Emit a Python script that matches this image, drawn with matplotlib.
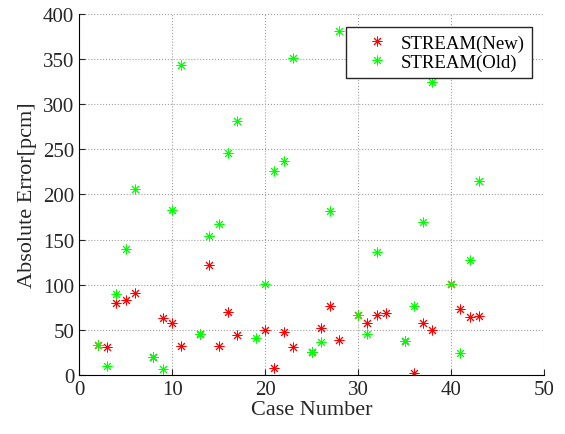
import numpy as np
import matplotlib
matplotlib.use('Agg')
import matplotlib.pyplot as plt

plt.rcParams['font.family'] = ['Liberation Serif', 'DejaVu Serif']

new_case = [2, 3, 4, 5, 6, 8, 9, 10, 11, 13, 14, 15, 16, 17, 20, 21, 22, 23, 25,
            26, 27, 28, 30, 31, 32, 33, 35, 36, 37, 38, 40, 41, 42, 43]
new_err = [33, 31, 80, 83, 91, 20, 63, 58, 32, 45, 122, 32, 70, 44, 50, 8, 48, 31, 26,
           52, 77, 39, 67, 58, 66, 69, 38, 2, 58, 50, 101, 73, 64, 65]

old_case = [2, 3, 4, 5, 6, 8, 9, 10, 11, 13, 14, 15, 16, 17, 19, 20, 21, 22, 23,
            25, 26, 27, 28, 30, 31, 32, 35, 36, 37, 38, 40, 41, 42, 43]
old_err = [33, 10, 90, 140, 206, 20, 7, 183, 343, 45, 154, 167, 246, 281, 41, 101, 226, 237, 351,
           26, 37, 182, 381, 67, 45, 136, 38, 77, 169, 325, 101, 24, 127, 215]

asterisk = (8, 2, 0)

fig = plt.figure(figsize=(5.65, 4.35), dpi=100)
ax = fig.add_axes([0.14, 0.1356, 0.823, 0.83])

ax.plot(new_case, new_err, linestyle='none', marker=asterisk, color='#ff0000',
        markersize=7, markeredgewidth=0.7, label='STREAM(New)')
ax.plot(old_case, old_err, linestyle='none', marker=asterisk, color='#00ff00',
        markersize=7, markeredgewidth=0.7, label='STREAM(Old)')

ax.set_xlim(0, 50)
ax.set_ylim(0, 400)
ax.set_xticks(np.arange(0, 51, 10))
ax.set_yticks(np.arange(0, 401, 50))
ax.grid(True, linestyle=':', color='#a0a0a0', linewidth=0.8)
ax.spines['top'].set_visible(False)
ax.spines['right'].set_visible(False)
ax.tick_params(direction='in', labelsize=15, length=4, color='#262626', labelcolor='#262626')
ax.set_xlabel('Case Number', fontsize=16, color='#262626', labelpad=1)
ax.set_ylabel('Absolute Error[pcm]', fontsize=16, color='#262626', labelpad=4)

leg = ax.legend(loc='upper right', bbox_to_anchor=(0.974, 0.964), borderaxespad=0,
                fontsize=13.5, fancybox=False, framealpha=1, edgecolor='#262626',
                handletextpad=0.03, borderpad=0.4, labelspacing=0.1, handlelength=2.5)
leg.get_frame().set_linewidth(1.0)

fig.savefig('out.png', dpi=100)
